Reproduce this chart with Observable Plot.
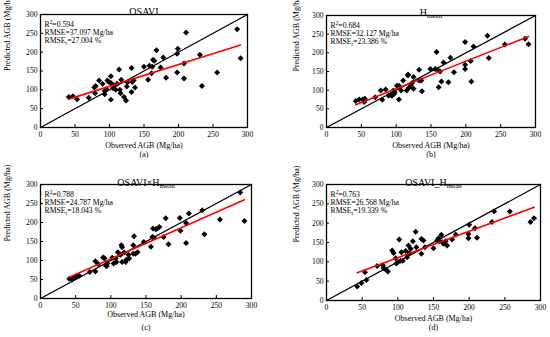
<!DOCTYPE html>
<html>
<head>
<meta charset="utf-8">
<script src="https://cdn.jsdelivr.net/npm/d3@7"></script>
<script src="https://cdn.jsdelivr.net/npm/@observablehq/plot@0.6"></script>
<style>
  html, body { margin: 0; padding: 0; background: #fff; }
  #wrap { position: relative; width: 550px; height: 337px; overflow: hidden; background: #fff; }
  #wrap svg { position: absolute; }
</style>
</head>
<body>
<div id="wrap"></div>
<script>
// ---- data ----
const ticks = [0, 50, 100, 150, 200, 250, 300];
const oneToOne = [0, 300];

const obsA = [41,47,53,70,78,80,79,85,90,93,93,96,97,99,102,102,102,105,106,109,111,114,115,116,117,121,124,125,126,132,133,132,135,137,150,156,158,161,162,163,165,168,174,178,182,198,199,198,208,208,211,231,234,256,285,290];
const predA = [81,83,75,79,106,110,91,125,116,88,97,101,125,121,118,74,136,105,112,100,116,154,100,91,127,81,72,109,120,158,121,94,125,106,161,127,164,144,161,180,177,205,159,186,132,196,209,146,130,170,252,193,110,146,261,184];
const fitAx = [42, 290], fitAy = [76, 219];

const obsB = [42,47,52,54,55,70,78,80,85,89,92,94,96,97,98,101,104,104,107,110,115,117,117,118,121,123,125,125,133,133,136,137,149,156,158,160,161,163,165,168,175,178,183,199,199,199,207,208,211,231,233,256,285,290];
const predB = [71,75,75,68,77,81,99,74,102,86,88,85,99,90,94,112,112,75,99,126,99,142,139,106,112,119,135,104,126,155,126,97,157,157,202,154,108,150,123,174,121,187,148,229,168,157,178,123,217,246,186,222,238,223];
const fitBx = [42, 290], fitBy = [61, 244];

const obsC = [41,45,48,52,55,70,78,78,82,89,91,93,95,94,102,104,107,108,110,114,115,116,116,119,121,122,125,126,132,133,132,135,138,147,157,159,160,161,164,166,169,175,178,182,198,199,207,207,211,230,233,255,284,290];
const predC = [52,50,55,58,60,70,98,71,91,108,106,87,92,85,107,92,105,96,122,115,140,135,96,121,96,102,115,105,118,164,140,118,122,149,136,162,184,160,182,184,188,162,211,143,212,178,146,199,224,232,169,208,279,204];
const fitCx = [40, 290], fitCy = [55, 260];

const obsD = [43,49,54,56,71,79,80,83,86,92,94,97,98,100,102,104,105,107,111,113,115,116,118,121,125,126,133,133,136,138,150,155,157,158,161,162,164,167,169,176,181,200,199,199,208,211,232,235,257,286,291];
const predD = [36,45,73,53,89,91,84,80,75,129,123,109,96,99,158,103,125,103,128,112,142,123,134,153,178,138,121,159,155,138,135,155,161,153,170,151,147,153,142,158,171,196,172,161,187,162,203,231,230,203,213];
const fitDx = [43, 291], fitDy = [72, 241];

const titles = ["OSAVI", "H~mean~", "OSAVI×H~mean~", "OSAVI_H~mean~"];
const tags = ["(a)", "(b)", "(c)", "(d)"];
const statsA = ["R^2^=0.594", "RMSE=37.097 Mg/ha", "RMSE~r~=27.004 %"];
const statsB = ["R^2^=0.684", "RMSE=32.127 Mg/ha", "RMSE~r~=23.386 %"];
const statsC = ["R^2^=0.788", "RMSE=24.787 Mg/ha", "RMSE~r~=18.043 %"];
const statsD = ["R^2^=0.763", "RMSE=26.568 Mg/ha", "RMSE~r~=19.339 %"];
const xLabel = "Observed AGB (Mg/ha)";
const yLabel = "Predicted AGB (Mg/ha)";

// ---- rendering ----
function rich(svg) {
  d3.select(svg).selectAll("text").each(function () {
    const t = this.textContent;
    if (!/[~^]/.test(t)) return;
    const sel = d3.select(this);
    sel.text(null);
    const re = /(~[^~]*~|\^[^^]*\^|[^~^]+)/g;
    let m, shifted = 0;
    while ((m = re.exec(t))) {
      const s = m[0];
      if (s[0] === "~") {
        sel.append("tspan").attr("font-size", "70%").attr("dy", 2 - shifted).text(s.slice(1, -1));
        shifted = 2;
      } else if (s[0] === "^") {
        sel.append("tspan").attr("font-size", "70%").attr("dy", -2.5 - shifted).text(s.slice(1, -1));
        shifted = -2.5;
      } else {
        sel.append("tspan").attr("dy", -shifted).text(s);
        shifted = 0;
      }
    }
  });
}

function panel(p) {
  const pts = p.obs.map((o, i) => ({o, q: p.pred[i]}));
  const fit = p.fitX.map((x, i) => ({x, y: p.fitY[i]}));
  const svg = Plot.plot({
    width: p.width, height: p.height,
    marginLeft: p.mL, marginRight: p.mR, marginTop: p.mT, marginBottom: p.mB,
    style: {fontFamily: "'Liberation Serif', 'Times New Roman', serif", fontSize: "7.6px", background: "white", color: "black"},
    x: {domain: [0, 300], label: null},
    y: {domain: [0, 300], label: null},
    marks: [
      Plot.line(oneToOne, {x: d => d, y: d => d, stroke: "black", strokeWidth: 1.3}),
      Plot.dot(pts, {x: "o", y: "q", symbol: "diamond2", r: 2.7, fill: "black", stroke: "none"}),
      Plot.line(fit, {x: "x", y: "y", stroke: "#ff0000", strokeWidth: 1.6}),
      Plot.frame({stroke: "black", strokeWidth: 1.3}),
      Plot.axisX(ticks, {tickSize: 3, dy: -3, fill: "none", label: null}),
      Plot.axisX(ticks, {tickSize: 0, tickPadding: 4, label: null}),
      Plot.axisY(ticks, {tickSize: 3, dx: 3, fill: "none", label: null}),
      Plot.axisY(ticks, {tickSize: 0, tickPadding: 3, label: null}),
      Plot.text([p.title], {text: d => d, frameAnchor: "top", dy: p.titleDy, fontSize: 10}),
      ...p.stats.map((s, i) => Plot.text([s], {text: d => d, frameAnchor: "top-left", textAnchor: "start", dx: 4, dy: 7 + 8 * i, fontSize: 7.7})),
      Plot.text([xLabel], {text: d => d, frameAnchor: "bottom", dy: p.xLabDy, fontSize: 8}),
      Plot.text([p.tag], {text: d => d, frameAnchor: "bottom", dy: p.tagDy, fontSize: 8}),
      Plot.text([yLabel], {text: d => d, frameAnchor: "left", rotate: -90, dx: p.yLabDx, fontSize: 8})
    ]
  });
  svg.style.left = p.left + "px";
  svg.style.top = p.top + "px";
  rich(svg);
  document.getElementById("wrap").appendChild(svg);
}

panel({obs: obsA, pred: predA, fitX: fitAx, fitY: fitAy, title: titles[0], tag: tags[0], stats: statsA,
  left: 0, top: 0, width: 275, height: 165, mL: 40, mR: 28, mT: 14, mB: 38,
  titleDy: -7, xLabDy: 20, tagDy: 29, yLabDx: -33});
panel({obs: obsB, pred: predB, fitX: fitBx, fitY: fitBy, title: titles[1], tag: tags[1], stats: statsB,
  left: 275, top: 0, width: 275, height: 165, mL: 51, mR: 15, mT: 15, mB: 38,
  titleDy: -7, xLabDy: 20, tagDy: 29, yLabDx: -30});
panel({obs: obsC, pred: predC, fitX: fitCx, fitY: fitCy, title: titles[2], tag: tags[2], stats: statsC,
  left: 0, top: 165, width: 275, height: 172, mL: 40, mR: 24, mT: 19, mB: 39,
  titleDy: -6, xLabDy: 18, tagDy: 31, yLabDx: -33});
panel({obs: obsD, pred: predD, fitX: fitDx, fitY: fitDy, title: titles[3], tag: tags[3], stats: statsD,
  left: 275, top: 165, width: 275, height: 172, mL: 51, mR: 10, mT: 19, mB: 37,
  titleDy: -6, xLabDy: 20, tagDy: 29, yLabDx: -30});
</script>
</body>
</html>
